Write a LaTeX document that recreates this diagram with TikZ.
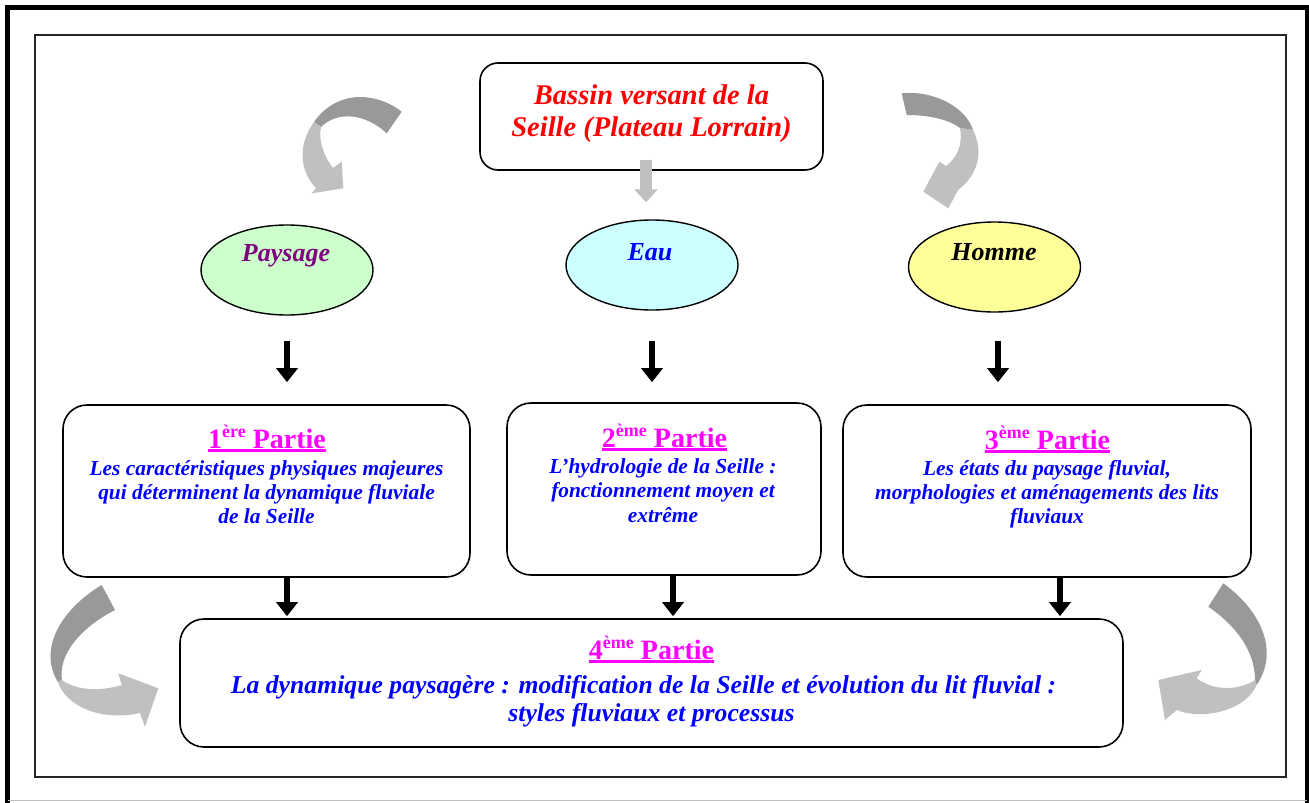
\documentclass[tikz,border=0pt]{standalone}
\usepackage{fontspec}
\setmainfont{Liberation Serif}
\usetikzlibrary{arrows.meta,shapes.geometric}
\definecolor{magT}{HTML}{FF00FF}
\definecolor{blueT}{HTML}{0000FF}
\definecolor{redT}{HTML}{FF0000}
\definecolor{purpT}{HTML}{800080}
\definecolor{fillG}{HTML}{CCFFCC}
\definecolor{fillC}{HTML}{CCFFFF}
\definecolor{fillY}{HTML}{FFFF99}
\definecolor{grayD}{HTML}{999999}
\definecolor{grayL}{HTML}{C0C0C0}
\newcommand\myul[1]{\setbox0=\hbox{#1}\rlap{\rule[-4pt]{\wd0}{2.6pt}}\box0}
\newcommand\mysup[1]{\raisebox{11pt}{\fontsize{18}{18}\selectfont #1}}
\begin{document}
\begin{tikzpicture}[x=1pt,y=-1pt,
  boxnode/.style={draw=black,line width=1.6pt,rounded corners=24pt,fill=white,inner sep=0pt},
  ellnode/.style={ellipse,draw=black,line width=1.4pt,inner sep=0pt,minimum width=172pt,minimum height=90pt},
  bodyf/.style={font=\fontsize{21.4}{24}\selectfont\bfseries\itshape,text=blueT,inner sep=0pt,anchor=base},
  bigbodyf/.style={font=\fontsize{25.7}{28}\selectfont\bfseries\itshape,text=blueT,inner sep=0pt,anchor=base},
  titlef/.style={font=\fontsize{28}{30}\selectfont\bfseries,text=magT,inner sep=0pt,anchor=base},
  ellf/.style={font=\fontsize{26}{28}\selectfont\bfseries\itshape,inner sep=0pt,anchor=base},
  blk/.style={line width=6pt,draw=black,-{Triangle[width=21pt,length=14pt]}},
  grayarrow/.style={line width=12pt,draw=grayL,-{Triangle[width=23pt,length=13pt]}}]
\useasboundingbox (0,0) rectangle (1309,803);
\fill[white] (0,0) rectangle (1309,803);
% frames
\draw[line width=5pt] (7.5,803) -- (7.5,7.5) -- (1307,7.5) -- (1307,803);
\draw[line width=1pt,draw=black!25] (7.5,800) -- (1307,800);
\draw[line width=1.5pt,draw=black!85] (35,35) rectangle (1286,777);

% top box
\node[boxnode,rounded corners=18pt,minimum width=343pt,minimum height=107pt] (bassin) at (651.5,116.5) {};
\node[font=\fontsize{28.5}{32}\selectfont\bfseries\itshape,text=redT,inner sep=0pt,anchor=base] (bassinA) at (651.5,104) {Bassin versant de la};
\node[font=\fontsize{28.5}{32}\selectfont\bfseries\itshape,text=redT,inner sep=0pt,anchor=base] (bassinB) at (651.5,136) {Seille (Plateau Lorrain)};

% ellipses
\node[ellnode,fill=fillG] (pays) at (287,270) {};
\node[ellnode,fill=fillC] (eau) at (652,265) {};
\node[ellnode,fill=fillY] (homme) at (994.5,267) {};
\node[ellf,text=purpT] (paysT) at (286,261) {Paysage};
\node[ellf,text=blueT] (eauT) at (650,260) {Eau};
\node[ellf,text=black] (hommeT) at (994,260) {Homme};

% gray straight arrow
\draw[grayarrow] ([xshift=-5.5pt,yshift=11pt]bassin.south) -- ([xshift=-5.5pt,yshift=17pt]bassin.south |- eau.north);

% part boxes
\node[boxnode,minimum width=407pt,minimum height=172pt] (b1) at (266.5,491) {};
\node[boxnode,minimum width=314pt,minimum height=172pt] (b2) at (664,489) {};
\node[boxnode,minimum width=408pt,minimum height=172pt] (b3) at (1047,491) {};
\node[boxnode,minimum width=943pt,minimum height=128pt] (b4) at (651.5,683) {};

\node[titlef] (b1t) at (267,448) {\myul{1\mysup{ère} Partie}};
\node[bodyf] (b1a) at (266.5,475) {Les caractéristiques physiques majeures};
\node[bodyf] (b1b) at (266.5,499) {qui déterminent la dynamique fluviale};
\node[bodyf] (b1c) at (266.5,523) {de la Seille};

\node[titlef] (b2t) at (664.5,447) {\myul{2\mysup{ème} Partie}};
\node[bodyf] (b2a) at (663,473) {L’hydrologie de la Seille :};
\node[bodyf] (b2b) at (663,497.5) {fonctionnement moyen et};
\node[bodyf] (b2c) at (663,522) {extrême};

\node[titlef] (b3t) at (1047.5,449) {\myul{3\mysup{ème} Partie}};
\node[bodyf] (b3a) at (1047,475) {Les états du paysage fluvial,};
\node[bodyf] (b3b) at (1047,499) {morphologies et aménagements des lits};
\node[bodyf] (b3c) at (1047,523) {fluviaux};

\node[titlef] (b4t) at (651.5,659) {\myul{4\mysup{ème} Partie}};
\node[bigbodyf] (b4a) at (643.5,693) {La dynamique paysagère : modification de la Seille et évolution du lit fluvial :};
\node[bigbodyf] (b4b) at (651.5,721) {styles fluviaux et processus};

% black arrows
\draw[blk] ([yshift=-25pt]pays.south) -- ([yshift=22pt]pays.south |- b1.north);
\draw[blk] ([yshift=-30pt]eau.south) -- ([yshift=20pt]eau.south |- b2.north);
\draw[blk] ([xshift=3.5pt,yshift=-28pt]homme.south) -- ([xshift=3.5pt,yshift=22pt]homme.south |- b3.north);
\draw[blk] (b1.south -| pays.south) -- ([yshift=2pt]b4.north -| pays.south);
\draw[blk] ([xshift=9pt]b2.south) -- ([xshift=9pt,yshift=2pt]b2.south |- b4.north);
\draw[blk] ([xshift=13pt]b3.south) -- ([xshift=13pt,yshift=2pt]b3.south |- b4.north);

% curved arrows
% top-left
\fill[grayD] (401.7,111.7) .. controls (378,93) and (338,88) .. (314,122) -- (321,127) .. controls (337,111) and (365,113) .. (386.7,133.3) -- cycle;
\fill[grayL] (314,122) .. controls (297,145) and (300,172) .. (316,188) -- (311.7,193.3) -- (343.3,188.3) -- (341.7,161.7) -- (333,168) .. controls (325,158) and (318,142) .. (321,127) -- cycle;
% top-right
\fill[grayD] (901.7,93.3) .. controls (930,90) and (965,105) .. (973,130) -- (960,128) .. controls (950,120) and (930,115) .. (906.7,115) -- cycle;
\fill[grayL] (973,130) .. controls (984,152) and (978,175) .. (958,190) -- (948.3,208.3) -- (923.3,191.7) -- (939.3,161.7) -- (946,166) .. controls (957,158) and (963,145) .. (960,128) -- cycle;
% bottom-left
\fill[grayD] (101.7,585) .. controls (60,610) and (38,650) .. (58,682) -- (62,680) .. controls (58,655) and (80,628) .. (115,610) -- cycle;
\fill[grayL] (58,682) .. controls (65,705) and (100,722) .. (140,713) -- (145,726.7) -- (158.3,688.3) -- (118.3,673.3) -- (121.7,685) .. controls (100,692) and (75,690) .. (62,680) -- cycle;
% bottom-right
\fill[grayD] (1223.3,583.3) .. controls (1260,610) and (1280,650) .. (1256.7,685) -- (1255,680) .. controls (1255,650) and (1235,625) .. (1208.3,606.7) -- cycle;
\fill[grayL] (1256.7,685) .. controls (1245,712) and (1200,720) .. (1176.7,710) -- (1165,720) -- (1158.3,680) -- (1201.7,670) -- (1196.7,678.3) .. controls (1215,692) and (1240,690) .. (1255,680) -- cycle;
\end{tikzpicture}
\end{document}
